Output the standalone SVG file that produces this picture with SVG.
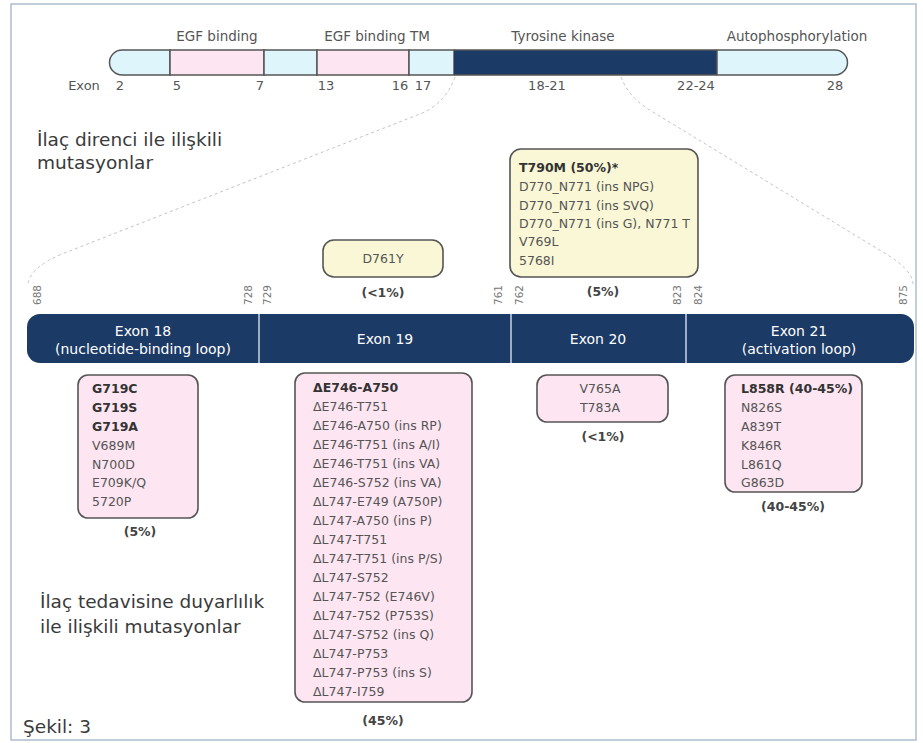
<svg xmlns="http://www.w3.org/2000/svg" width="923" height="743" viewBox="0 0 923 743">
  <style>
    text { font-family: "DejaVu Sans", "Noto Sans", sans-serif; fill: #555; }
    .lbl { font-size: 13.5px; text-anchor: middle; }
    .num { font-size: 13px; text-anchor: middle; }
    .pos { font-size: 10.5px; text-anchor: middle; fill: #777; }
    .head { font-size: 18.5px; fill: #3a3a3a; }
    .mut { font-size: 12.5px; }
    .b { font-weight: 700; fill: #333; }
    .pct { font-size: 12.5px; font-weight: 700; fill: #444; text-anchor: middle; }
    .ex { font-size: 14px; fill: #fff; text-anchor: middle; }
    .seg { stroke: #555; stroke-width: 1.5; }
    .box { stroke: #555; stroke-width: 1.6; }
    .yel { fill: #faf7d6; }
    .pink { fill: #fde5f2; }
    .dash { fill: none; stroke: #c4c4c4; stroke-width: 1; stroke-dasharray: 3 3; }
  </style>

  <!-- frame -->
  <rect x="11" y="4" width="905" height="736" fill="#fff" stroke="#aebdd1" stroke-width="1.5"/>

  <!-- domain map of the receptor -->
  <g id="domain-bar">
    <path class="seg" d="M122,50 H170 V75 H122 A12.5,12.5 0 0 1 122,50 Z" fill="#dff5fc"/>
    <rect class="seg" x="170" y="50" width="94" height="25" fill="#fde5f2"/>
    <rect class="seg" x="264" y="50" width="53" height="25" fill="#dff5fc"/>
    <rect class="seg" x="317" y="50" width="92" height="25" fill="#fde5f2"/>
    <rect class="seg" x="409" y="50" width="45" height="25" fill="#dff5fc"/>
    <rect x="454" y="50" width="263" height="25" fill="#1b3a66"/>
    <path class="seg" d="M717,50 H835 A12.5,12.5 0 0 1 835,75 H717 Z" fill="#dff5fc"/>
    <path d="M454,50 H717 M454,75 H717" stroke="#555" stroke-width="1.5"/>
    <text class="lbl" x="217" y="41">EGF binding</text>
    <text class="lbl" x="377" y="41">EGF binding TM</text>
    <text class="lbl" x="563" y="41">Tyrosine kinase</text>
    <text class="lbl" x="797" y="41">Autophosphorylation</text>
    <text class="num" x="84" y="90">Exon</text>
    <text class="num" x="120" y="90">2</text>
    <text class="num" x="177" y="90">5</text>
    <text class="num" x="260" y="90">7</text>
    <text class="num" x="326" y="90">13</text>
    <text class="num" x="400" y="90">16</text>
    <text class="num" x="423" y="90">17</text>
    <text class="num" x="547" y="90">18-21</text>
    <text class="num" x="696" y="90">22-24</text>
    <text class="num" x="835" y="90">28</text>
  </g>

  <!-- zoom guides from the kinase region to the exon strip -->
  <g id="connectors">
    <path class="dash" d="M455,77 Q447,100 425,112 L62,254 Q29,268 28,285"/>
    <path class="dash" d="M621,77 Q628,96 648,109 L886,254 Q913,270 913,285"/>
  </g>

  <g id="heading-resistance">
    <text class="head" x="37" y="146">İlaç direnci ile ilişkili</text>
    <text class="head" x="37" y="169">mutasyonlar</text>
  </g>

  <!-- amino-acid positions -->
  <g id="positions">
    <text class="pos" transform="translate(41,295) rotate(-90)">688</text>
    <text class="pos" transform="translate(252,295) rotate(-90)">728</text>
    <text class="pos" transform="translate(271,295) rotate(-90)">729</text>
    <text class="pos" transform="translate(502,295) rotate(-90)">761</text>
    <text class="pos" transform="translate(523,295) rotate(-90)">762</text>
    <text class="pos" transform="translate(681,295) rotate(-90)">823</text>
    <text class="pos" transform="translate(702,295) rotate(-90)">824</text>
    <text class="pos" transform="translate(907,295) rotate(-90)">875</text>
  </g>

  <g id="d761y">
    <rect class="box yel" x="323" y="240" width="120" height="37" rx="11"/>
    <text class="mut" x="383" y="263" text-anchor="middle">D761Y</text>
    <text class="pct" x="383" y="297">(&lt;1%)</text>
  </g>

  <g id="t790m">
    <rect class="box yel" x="510" y="149" width="188" height="128" rx="11"/>
    <text class="mut b" x="519" y="172">T790M (50%)*</text>
    <text class="mut" x="519" y="191">D770_N771 (ins NPG)</text>
    <text class="mut" x="519" y="210">D770_N771 (ins SVQ)</text>
    <text class="mut" x="519" y="228">D770_N771 (ins G), N771 T</text>
    <text class="mut" x="519" y="246">V769L</text>
    <text class="mut" x="519" y="265">5768I</text>
    <text class="pct" x="603" y="296">(5%)</text>
  </g>

  <!-- exon strip -->
  <g id="exon-strip">
    <rect x="27" y="314" width="887" height="49" rx="13" fill="#1b3a66"/>
    <path d="M259,314 V363 M511,314 V363 M686,314 V363" stroke="#c9d3e2" stroke-width="1.5"/>
    <text class="ex" x="143" y="336">Exon 18</text>
    <text class="ex" x="143" y="354">(nucleotide-binding loop)</text>
    <text class="ex" x="385" y="344">Exon 19</text>
    <text class="ex" x="598" y="344">Exon 20</text>
    <text class="ex" x="799" y="336">Exon 21</text>
    <text class="ex" x="799" y="354">(activation loop)</text>
  </g>

  <g id="exon18-mutations">
    <rect class="box pink" x="78" y="375" width="120" height="143" rx="10"/>
    <text class="mut b" x="92" y="393">G719C</text>
    <text class="mut b" x="92" y="412">G719S</text>
    <text class="mut b" x="92" y="431">G719A</text>
    <text class="mut" x="92" y="450">V689M</text>
    <text class="mut" x="92" y="469">N700D</text>
    <text class="mut" x="92" y="487">E709K/Q</text>
    <text class="mut" x="92" y="506">5720P</text>
    <text class="pct" x="140" y="536">(5%)</text>
  </g>

  <g id="exon19-mutations">
    <rect class="box pink" x="295" y="373" width="177" height="329" rx="10"/>
    <text class="mut b" x="313" y="392">ΔE746-A750</text>
    <text class="mut" x="313" y="411">ΔE746-T751</text>
    <text class="mut" x="313" y="430">ΔE746-A750 (ins RP)</text>
    <text class="mut" x="313" y="449">ΔE746-T751 (ins A/I)</text>
    <text class="mut" x="313" y="468">ΔE746-T751 (ins VA)</text>
    <text class="mut" x="313" y="487">ΔE746-S752 (ins VA)</text>
    <text class="mut" x="313" y="506">ΔL747-E749 (A750P)</text>
    <text class="mut" x="313" y="525">ΔL747-A750 (ins P)</text>
    <text class="mut" x="313" y="544">ΔL747-T751</text>
    <text class="mut" x="313" y="563">ΔL747-T751 (ins P/S)</text>
    <text class="mut" x="313" y="582">ΔL747-S752</text>
    <text class="mut" x="313" y="601">ΔL747-752 (E746V)</text>
    <text class="mut" x="313" y="620">ΔL747-752 (P753S)</text>
    <text class="mut" x="313" y="639">ΔL747-S752 (ins Q)</text>
    <text class="mut" x="313" y="658">ΔL747-P753</text>
    <text class="mut" x="313" y="677">ΔL747-P753 (ins S)</text>
    <text class="mut" x="313" y="696">ΔL747-I759</text>
    <text class="pct" x="383" y="725">(45%)</text>
  </g>

  <g id="exon20-mutations">
    <rect class="box pink" x="537" y="375" width="131" height="47" rx="10"/>
    <text class="mut" x="600" y="393" text-anchor="middle">V765A</text>
    <text class="mut" x="600" y="412" text-anchor="middle">T783A</text>
    <text class="pct" x="603" y="441">(&lt;1%)</text>
  </g>

  <g id="exon21-mutations">
    <rect class="box pink" x="725" y="375" width="137" height="117" rx="10"/>
    <text class="mut b" x="741" y="393">L858R (40-45%)</text>
    <text class="mut" x="741" y="412">N826S</text>
    <text class="mut" x="741" y="431">A839T</text>
    <text class="mut" x="741" y="450">K846R</text>
    <text class="mut" x="741" y="469">L861Q</text>
    <text class="mut" x="741" y="487">G863D</text>
    <text class="pct" x="793" y="511">(40-45%)</text>
  </g>

  <g id="heading-sensitivity">
    <text class="head" x="40" y="608">İlaç tedavisine duyarlılık</text>
    <text class="head" x="40" y="633">ile ilişkili mutasyonlar</text>
  </g>

  <g id="caption">
    <text class="head" x="23" y="733">Şekil: 3</text>
  </g>
</svg>
